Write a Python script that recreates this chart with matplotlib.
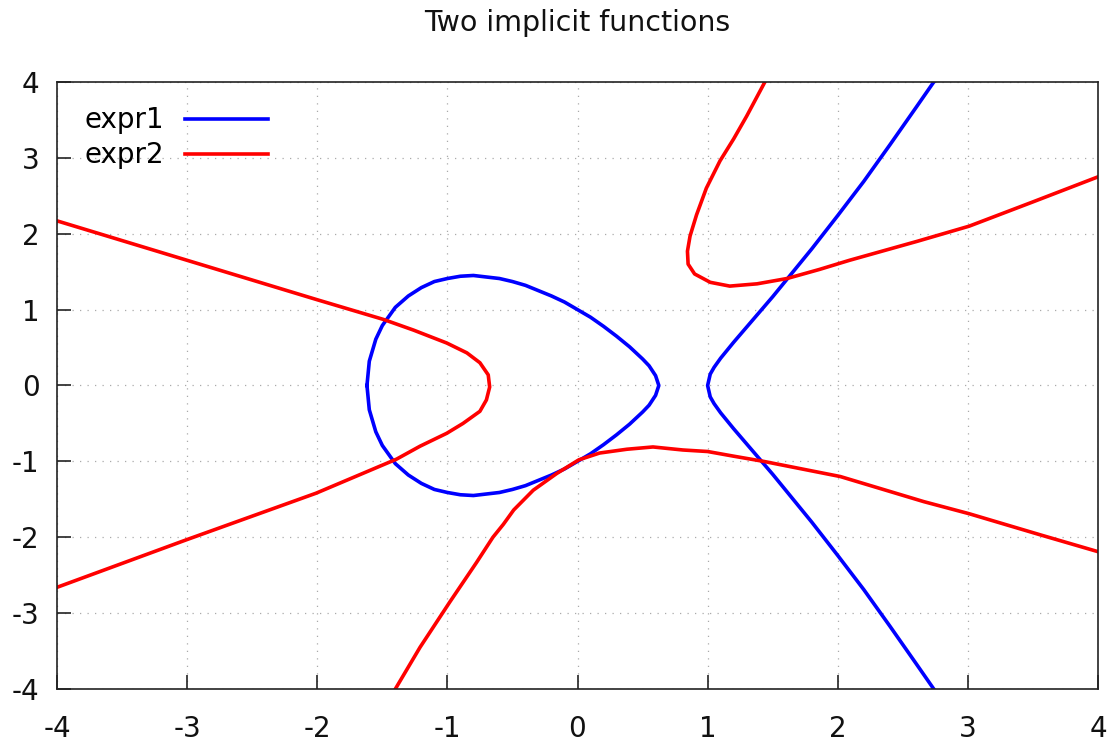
import matplotlib
matplotlib.use("Agg")
import matplotlib.pyplot as plt
from matplotlib.lines import Line2D

plt.rcParams['font.family'] = ['DejaVu Sans']

# ---- data ----
title = "Two implicit functions"
series_labels = ["expr1", "expr2"]
series_colors = ["#0000ff", "#ff0000"]
tick_values = [-4, -3, -2, -1, 0, 1, 2, 3, 4]
tick_labels = ["-4", "-3", "-2", "-1", "0", "1", "2", "3", "4"]

# expr1: closed loop (upper half left->right, lower half right->left)
expr1_loop_x = [-1.618, -1.6, -1.55, -1.5, -1.4, -1.3, -1.2, -1.1, -1.0, -0.9, -0.8, -0.7,
                -0.6, -0.5, -0.4, -0.3, -0.2, -0.1, 0.0, 0.1, 0.2, 0.3, 0.4, 0.5, 0.55, 0.6, 0.625,
                0.6, 0.55, 0.5, 0.4, 0.3, 0.2, 0.1, 0.0, -0.1, -0.2, -0.3, -0.4, -0.5, -0.6,
                -0.7, -0.8, -0.9, -1.0, -1.1, -1.2, -1.3, -1.4, -1.5, -1.55, -1.6, -1.618]
expr1_loop_y = [0.0, 0.32, 0.61, 0.79, 1.03, 1.18, 1.29, 1.37, 1.41, 1.44, 1.45, 1.43,
                1.41, 1.37, 1.32, 1.25, 1.18, 1.10, 1.00, 0.90, 0.78, 0.65, 0.51, 0.35, 0.26, 0.13, 0.0,
                -0.13, -0.26, -0.35, -0.51, -0.65, -0.78, -0.90, -1.00, -1.10, -1.18, -1.25, -1.32,
                -1.37, -1.41, -1.43, -1.45, -1.44, -1.41, -1.37, -1.29, -1.18, -1.03, -0.79, -0.61,
                -0.32, 0.0]

# expr1: open branch (top -> vertex -> bottom)
expr1_branch_x = [2.75, 2.6, 2.4, 2.2, 2.0, 1.8, 1.6, 1.5, 1.4, 1.3, 1.2, 1.1, 1.05, 1.02, 1.0,
                  1.02, 1.05, 1.1, 1.2, 1.3, 1.4, 1.5, 1.6, 1.8, 2.0, 2.2, 2.4, 2.6, 2.75]
expr1_branch_y = [4.03, 3.66, 3.17, 2.69, 2.24, 1.80, 1.38, 1.17, 0.97, 0.77, 0.57, 0.36, 0.24, 0.15, 0.0,
                  -0.15, -0.24, -0.36, -0.57, -0.77, -0.97, -1.17, -1.38, -1.80, -2.24, -2.69, -3.17,
                  -3.66, -4.03]

# expr2: left branch (upper-left -> vertex -> lower-left)
expr2_left_x = [-4.0, -3.0, -2.0, -1.49, -1.26, -1.005, -0.85, -0.75, -0.686, -0.675,
                -0.70, -0.75, -0.88, -1.005, -1.21, -1.39, -2.01, -3.0, -4.0]
expr2_left_y = [2.17, 1.65, 1.13, 0.87, 0.73, 0.56, 0.43, 0.30, 0.14, -0.02,
                -0.19, -0.34, -0.50, -0.63, -0.80, -0.97, -1.42, -2.03, -2.66]

# expr2: bottom branch (lower-left -> hump -> right)
expr2_bottom_x = [-1.40, -1.21, -0.98, -0.775, -0.65, -0.57, -0.49, -0.34, -0.16, 0.01, 0.17,
                  0.38, 0.58, 0.81, 1.0, 1.195, 1.43, 2.02, 2.66, 3.01, 3.56, 4.0]
expr2_bottom_y = [-4.0, -3.45, -2.85, -2.33, -2.0, -1.83, -1.64, -1.38, -1.16, -0.98, -0.89,
                  -0.84, -0.81, -0.85, -0.87, -0.93, -1.0, -1.20, -1.53, -1.69, -1.97, -2.19]

# expr2: upper-right branch (top -> vertex -> right)
expr2_top_x = [1.44, 1.30, 1.20, 1.095, 0.99, 0.915, 0.865, 0.845, 0.85, 0.90, 1.02, 1.17,
               1.38, 1.61, 1.86, 2.09, 2.61, 3.01, 3.50, 4.0]
expr2_top_y = [4.0, 3.55, 3.25, 2.96, 2.60, 2.25, 1.97, 1.77, 1.60, 1.47, 1.36, 1.31,
               1.34, 1.41, 1.53, 1.65, 1.90, 2.10, 2.42, 2.75]

# ---- figure ----
fig = plt.figure(figsize=(11.12, 7.44), dpi=100)
ax = fig.add_axes([57 / 1112, 1 - 689 / 744, (1098 - 57) / 1112, (689 - 82) / 744])

lw = 2.6
ax.plot(expr1_loop_x, expr1_loop_y, color=series_colors[0], lw=lw, solid_joinstyle='round')
ax.plot(expr1_branch_x, expr1_branch_y, color=series_colors[0], lw=lw, solid_joinstyle='round')
ax.plot(expr2_left_x, expr2_left_y, color=series_colors[1], lw=lw, solid_joinstyle='round')
ax.plot(expr2_bottom_x, expr2_bottom_y, color=series_colors[1], lw=lw, solid_joinstyle='round')
ax.plot(expr2_top_x, expr2_top_y, color=series_colors[1], lw=lw, solid_joinstyle='round')

ax.set_xlim(-4, 4)
ax.set_ylim(-4, 4)
ax.set_xticks(tick_values)
ax.set_xticklabels(tick_labels)
ax.set_yticks(tick_values)
ax.set_yticklabels(tick_labels)

ax.grid(True, color='#aaaaaa', linestyle=(0, (1, 5)), linewidth=0.9)
ax.set_axisbelow(True)

for s in ax.spines.values():
    s.set_linewidth(1.2)
    s.set_color('#222222')

ax.tick_params(axis='both', direction='in', length=10, width=1.2, labelsize=20,
               color='#222222', labelcolor='#111111')
ax.tick_params(axis='x', pad=19)
ax.tick_params(axis='y', pad=12.5)

handles = [Line2D([], [], color=c, lw=lw) for c in series_colors]
ax.legend(handles, series_labels, loc='upper left', bbox_to_anchor=(0.021, 0.969),
          frameon=False, markerfirst=False, fontsize=20, handlelength=3.0,
          handletextpad=0.75, labelspacing=0.25, borderpad=0.2, borderaxespad=0)

fig.text(577.5 / 1112, 1 - 31 / 744, title, ha='center', va='baseline', fontsize=20.5,
         color='#111111')

fig.savefig("out.png", dpi=100)
